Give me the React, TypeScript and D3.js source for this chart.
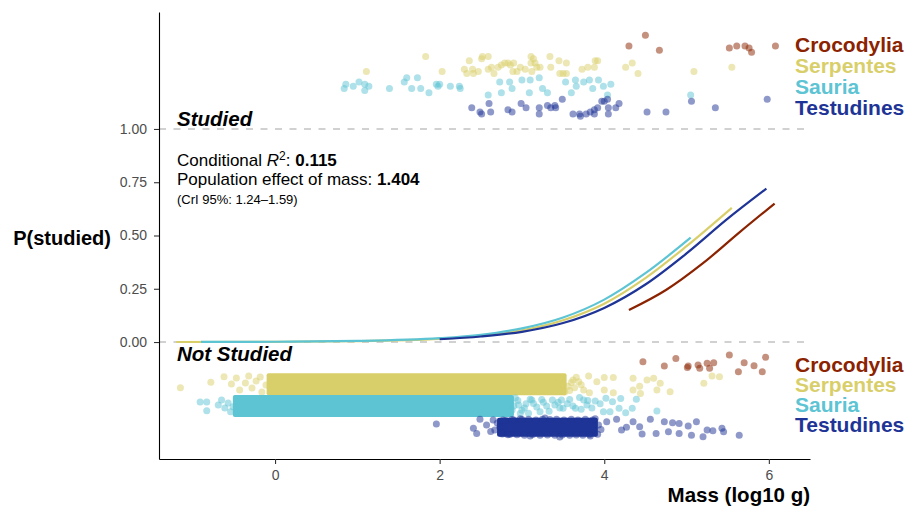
import React, { useEffect, useRef } from "react";
import * as d3 from "d3";

const width = 906;
const height = 508;
const font = "'Liberation Sans', Arial, sans-serif";

const species = ["Crocodylia", "Serpentes", "Sauria", "Testudines"];
const colors = ["#8b2300", "#d9cf6a", "#5dc4d4", "#1e3496"];

const xTicks = [0, 2, 4, 6];
const yTicks = [0, 0.25, 0.5, 0.75, 1];

// studied species: [mass (log10 g), jittered y]
const crocodyliaStudied = [[4.30,1.39],[4.50,1.44],[4.67,1.37],[5.52,1.38],[5.61,1.39],[5.71,1.39],[5.76,1.38],[5.79,1.36],[6.08,1.39]];
const serpentesStudied = [[1.11,1.27],[1.83,1.34],[2.03,1.27],[2.30,1.28],[2.33,1.26],[2.36,1.32],[2.40,1.28],[2.41,1.26],[2.47,1.27],[2.51,1.33],[2.52,1.34],[2.59,1.34],[2.59,1.28],[2.63,1.29],[2.66,1.26],[2.71,1.29],[2.75,1.30],[2.79,1.31],[2.83,1.31],[2.86,1.30],[2.89,1.27],[2.90,1.31],[2.98,1.29],[2.94,1.27],[3.04,1.28],[3.11,1.34],[3.14,1.33],[3.11,1.31],[3.16,1.31],[3.12,1.27],[3.18,1.29],[3.22,1.29],[3.34,1.34],[3.35,1.29],[3.45,1.32],[3.46,1.26],[3.50,1.26],[3.54,1.31],[3.54,1.26],[3.73,1.28],[3.80,1.29],[3.88,1.29],[3.89,1.32],[3.92,1.32],[4.26,1.29],[4.34,1.31],[4.41,1.26],[5.09,1.27],[5.55,1.29]];
const sauriaStudied = [[0.84,1.19],[0.86,1.21],[0.95,1.20],[1.02,1.22],[1.09,1.21],[1.09,1.18],[1.14,1.20],[1.39,1.19],[1.57,1.22],[1.60,1.24],[1.66,1.19],[1.73,1.24],[1.77,1.19],[1.87,1.17],[1.96,1.21],[1.98,1.20],[2.00,1.21],[2.13,1.20],[2.24,1.20],[2.25,1.19],[2.59,1.16],[2.73,1.22],[2.75,1.17],[2.85,1.22],[2.88,1.19],[3.00,1.23],[3.09,1.17],[3.10,1.23],[3.21,1.24],[3.25,1.19],[3.31,1.17],[3.53,1.22],[3.60,1.17],[3.65,1.23],[3.66,1.20],[3.75,1.22],[3.82,1.23],[3.86,1.19],[3.93,1.23],[3.99,1.20],[4.04,1.16],[4.08,1.21],[5.05,1.16]];
const testudinesStudied = [[2.39,1.10],[2.49,1.08],[2.51,1.07],[2.60,1.12],[2.62,1.08],[2.83,1.09],[2.88,1.08],[2.99,1.12],[3.05,1.10],[3.21,1.10],[3.21,1.07],[3.31,1.11],[3.35,1.10],[3.40,1.11],[3.41,1.10],[3.49,1.14],[3.62,1.07],[3.70,1.07],[3.71,1.06],[3.78,1.07],[3.83,1.08],[3.88,1.07],[3.88,1.09],[3.92,1.10],[3.97,1.13],[4.00,1.13],[4.04,1.14],[4.05,1.10],[4.05,1.07],[4.14,1.10],[4.18,1.12],[4.52,1.08],[4.75,1.08],[5.06,1.13],[5.35,1.10],[5.98,1.14]];

// not studied species: points outside the overplotted cores
const crocodyliaNotStudied = [[4.47,-0.092],[4.73,-0.113],[4.87,-0.077],[5.01,-0.119],[5.02,-0.113],[5.14,-0.108],[5.16,-0.123],[5.25,-0.100],[5.28,-0.123],[5.33,-0.097],[5.52,-0.061],[5.63,-0.139],[5.70,-0.097],[5.82,-0.111],[5.92,-0.139],[5.96,-0.072]];
const serpentesNotStudied = [[-1.15,-0.215],[-0.78,-0.189],[-0.62,-0.163],[-0.53,-0.197],[-0.47,-0.169],[-0.43,-0.225],[-0.36,-0.192],[-0.32,-0.160],[-0.28,-0.216],[-0.23,-0.183],[-0.18,-0.164],[-0.16,-0.235],[-0.11,-0.202],[3.45,-0.170],[3.50,-0.200],[3.52,-0.235],[3.56,-0.207],[3.58,-0.228],[3.60,-0.190],[3.62,-0.178],[3.64,-0.215],[3.66,-0.165],[3.69,-0.186],[3.72,-0.200],[3.75,-0.225],[3.81,-0.160],[3.82,-0.238],[3.91,-0.186],[4.00,-0.166],[4.00,-0.225],[4.11,-0.166],[4.11,-0.238],[4.35,-0.170],[4.35,-0.225],[4.43,-0.207],[4.44,-0.241],[4.52,-0.178],[4.60,-0.170],[4.64,-0.225],[4.68,-0.194],[4.80,-0.233],[5.21,-0.194],[5.31,-0.160],[5.40,-0.163]];
const sauriaNotStudied = [[-0.91,-0.282],[-0.83,-0.282],[-0.83,-0.323],[-0.69,-0.296],[-0.65,-0.272],[-0.61,-0.310],[-0.57,-0.286],[-0.54,-0.327],[-0.51,-0.304],[2.88,-0.319],[2.90,-0.300],[2.92,-0.263],[2.95,-0.275],[2.96,-0.296],[2.98,-0.335],[3.00,-0.320],[3.03,-0.310],[3.05,-0.290],[3.08,-0.334],[3.10,-0.269],[3.12,-0.272],[3.14,-0.288],[3.18,-0.305],[3.22,-0.327],[3.24,-0.270],[3.26,-0.283],[3.30,-0.300],[3.33,-0.325],[3.37,-0.272],[3.40,-0.295],[3.44,-0.283],[3.46,-0.310],[3.48,-0.272],[3.50,-0.311],[3.55,-0.290],[3.58,-0.270],[3.62,-0.300],[3.65,-0.311],[3.70,-0.260],[3.72,-0.315],[3.75,-0.272],[3.79,-0.296],[3.80,-0.275],[3.85,-0.310],[3.89,-0.277],[3.95,-0.290],[3.99,-0.327],[4.02,-0.264],[4.07,-0.327],[4.10,-0.280],[4.18,-0.311],[4.20,-0.265],[4.26,-0.332],[4.34,-0.311],[4.39,-0.269],[4.64,-0.324]];
const testudinesNotStudied = [[1.96,-0.385],[2.41,-0.405],[2.45,-0.429],[2.49,-0.363],[2.57,-0.390],[2.62,-0.420],[2.65,-0.366],[2.67,-0.413],[2.70,-0.380],[2.73,-0.399],[2.75,-0.427],[2.76,-0.432],[2.77,-0.366],[2.80,-0.368],[2.83,-0.435],[2.85,-0.434],[2.88,-0.364],[2.90,-0.366],[2.94,-0.435],[2.98,-0.360],[3.00,-0.364],[3.03,-0.437],[3.08,-0.362],[3.10,-0.441],[3.13,-0.434],[3.17,-0.366],[3.22,-0.438],[3.25,-0.363],[3.28,-0.356],[3.31,-0.436],[3.34,-0.364],[3.40,-0.438],[3.42,-0.362],[3.46,-0.446],[3.49,-0.436],[3.51,-0.366],[3.58,-0.438],[3.60,-0.363],[3.66,-0.436],[3.68,-0.366],[3.74,-0.437],[3.77,-0.362],[3.82,-0.434],[3.83,-0.441],[3.86,-0.366],[3.89,-0.360],[3.92,-0.433],[3.93,-0.390],[3.96,-0.410],[4.03,-0.374],[4.15,-0.363],[4.21,-0.413],[4.27,-0.400],[4.35,-0.374],[4.43,-0.398],[4.46,-0.432],[4.56,-0.363],[4.63,-0.429],[4.73,-0.374],[4.78,-0.421],[4.83,-0.379],[4.91,-0.382],[4.91,-0.429],[5.02,-0.394],[5.06,-0.437],[5.12,-0.374],[5.20,-0.445],[5.25,-0.413],[5.32,-0.416],[5.43,-0.405],[5.45,-0.421],[5.64,-0.437]];

// heavily overplotted cores of the not-studied clouds: mass range, jitter range
const serpentesDenseMass = [-0.06, 3.50];
const serpentesDenseY = [-0.163, -0.233];
const sauriaDenseMass = [-0.47, 2.86];
const sauriaDenseY = [-0.265, -0.335];
const testudinesDenseMass = [2.74, 3.88];
const testudinesDenseY = [-0.372, -0.428];

// fitted P(studied) per group
const crocodyliaCurveMass = [4.30, 4.75, 5.20, 5.65, 6.07];
const crocodyliaCurveP = [0.15, 0.244, 0.37, 0.517, 0.65];
const serpentesCurveMass = [-1.2, 0, 1, 2, 2.5, 3, 3.5, 4, 4.5, 5, 5.55];
const serpentesCurveP = [0.0002, 0.0011, 0.004, 0.015, 0.029, 0.055, 0.102, 0.18, 0.30, 0.45, 0.63];
const sauriaCurveMass = [-0.9, 0, 1, 2, 2.5, 3, 3.5, 4, 4.5, 5.05];
const sauriaCurveP = [0.0004, 0.0014, 0.005, 0.018, 0.034, 0.064, 0.115, 0.199, 0.323, 0.49];
const testudinesCurveMass = [2, 2.5, 3, 3.5, 4, 4.5, 5, 5.5, 5.97];
const testudinesCurveP = [0.013, 0.026, 0.048, 0.089, 0.16, 0.27, 0.416, 0.579, 0.72];

const studied = [crocodyliaStudied, serpentesStudied, sauriaStudied, testudinesStudied];
const notStudied = [crocodyliaNotStudied, serpentesNotStudied, sauriaNotStudied, testudinesNotStudied];
const dense = [null, [serpentesDenseMass, serpentesDenseY], [sauriaDenseMass, sauriaDenseY], [testudinesDenseMass, testudinesDenseY]];
const curves = [
  [crocodyliaCurveMass, crocodyliaCurveP],
  [serpentesCurveMass, serpentesCurveP],
  [sauriaCurveMass, sauriaCurveP],
  [testudinesCurveMass, testudinesCurveP],
];

const r = 3.5;

export default function App() {
  const ref = useRef<SVGSVGElement>(null);

  useEffect(() => {
    const svg = d3.select(ref.current);
    svg.selectAll("*").remove();

    const x = d3.scaleLinear().domain([-1.41, 6.5]).range([159, 810]);
    const y = d3.scaleLinear().domain([-0.549, 1.549]).range([459, 12]);

    // reference lines at 0 and 1
    svg.selectAll("line.ref")
      .data([0, 1]).enter()
      .append("line")
      .attr("x1", x.range()[0]).attr("x2", x.range()[1])
      .attr("y1", (d) => y(d)).attr("y2", (d) => y(d))
      .attr("stroke", "#c2c2c2").attr("stroke-width", 1.6)
      .attr("stroke-dasharray", "7,7.5");

    // points
    species.forEach((s, i) => {
      const g = svg.append("g");
      const dn = dense[i];
      if (dn) {
        const [m, j] = dn;
        g.append("rect")
          .attr("x", x(m[0]) - r).attr("width", x(m[1]) - x(m[0]) + 2 * r)
          .attr("y", y(j[0]) - r).attr("height", y(j[1]) - y(j[0]) + 2 * r)
          .attr("rx", 2).attr("fill", colors[i]);
      }
      g.selectAll("circle.ns")
        .data(notStudied[i]).enter()
        .append("circle")
        .attr("cx", (d) => x(d[0])).attr("cy", (d) => y(d[1]))
        .attr("r", r).attr("fill", colors[i]).attr("fill-opacity", 0.5);
      g.selectAll("circle.st")
        .data(studied[i]).enter()
        .append("circle")
        .attr("cx", (d) => x(d[0])).attr("cy", (d) => y(d[1]))
        .attr("r", r).attr("fill", colors[i]).attr("fill-opacity", 0.5);
    });

    // fitted curves
    curves.forEach(([ms, ps], i) => {
      const pts = ms.map((m, k) => [x(m), y(ps[k])] as [number, number]);
      svg.append("path")
        .attr("d", d3.line().curve(d3.curveMonotoneX)(pts))
        .attr("fill", "none").attr("stroke", colors[i]).attr("stroke-width", 2.2);
    });

    // axes
    const xAxis = svg.append("g")
      .attr("transform", "translate(0," + y.range()[0] + ")")
      .call(d3.axisBottom(x).tickValues(xTicks).tickFormat(d3.format("d")).tickSize(5).tickPadding(6).tickSizeOuter(0));
    const yAxis = svg.append("g")
      .attr("transform", "translate(" + x.range()[0] + ",0)")
      .call(d3.axisLeft(y).tickValues(yTicks).tickFormat(d3.format(".2f")).tickSize(5).tickPadding(7).tickSizeOuter(0));
    [xAxis, yAxis].forEach((a) => {
      a.select(".domain").attr("stroke", "#000").attr("stroke-width", 1.1);
      a.selectAll(".tick line").attr("stroke", "#333").attr("stroke-width", 1.1);
      a.selectAll(".tick text").attr("fill", "#4d4d4d").style("font-size", "14px").style("font-family", font);
    });

    const txt = (tx, ty, s, opts: any = {}) =>
      svg.append("text").attr("x", tx).attr("y", ty)
        .style("font-family", font)
        .style("font-size", (opts.size || 20) + "px")
        .style("font-weight", opts.weight || "bold")
        .style("font-style", opts.style || "normal")
        .attr("fill", opts.fill || "#000")
        .attr("text-anchor", opts.anchor || "start")
        .text(s);

    txt(111, 245, "P(studied)", { anchor: "end" });
    txt(810, 502, "Mass (log10 g)", { anchor: "end", size: 20.5 });
    txt(177, 126, "Studied", { style: "italic", size: 20.5 });
    txt(177, 361, "Not Studied", { style: "italic", size: 20.5 });

    const l1 = txt(177, 166.3, "Conditional ", { size: 17, weight: "normal" });
    l1.append("tspan").style("font-style", "italic").text("R");
    l1.append("tspan").attr("dy", -6.5).style("font-size", "12px").text("2");
    l1.append("tspan").attr("dy", 6.5).text(": ");
    l1.append("tspan").style("font-weight", "bold").text("0.115");
    const l2 = txt(177, 184.7, "Population effect of mass: ", { size: 17, weight: "normal" });
    l2.append("tspan").style("font-weight", "bold").text("1.404");
    txt(177, 204, "(CrI 95%: 1.24\u20131.59)", { size: 13, weight: "normal" });

    const topBase = [51.7, 72.7, 94, 115];
    const botBase = [371.7, 391.7, 411.7, 432.3];
    species.forEach((s, i) => {
      txt(795, topBase[i], s, { fill: colors[i], size: 21 });
      txt(795, botBase[i], s, { fill: colors[i], size: 21 });
    });
  }, []);

  return (
    <svg ref={ref} width={width} height={height}
      style={{ position: "absolute", left: 0, top: 0, background: "#fff" }} />
  );
}
